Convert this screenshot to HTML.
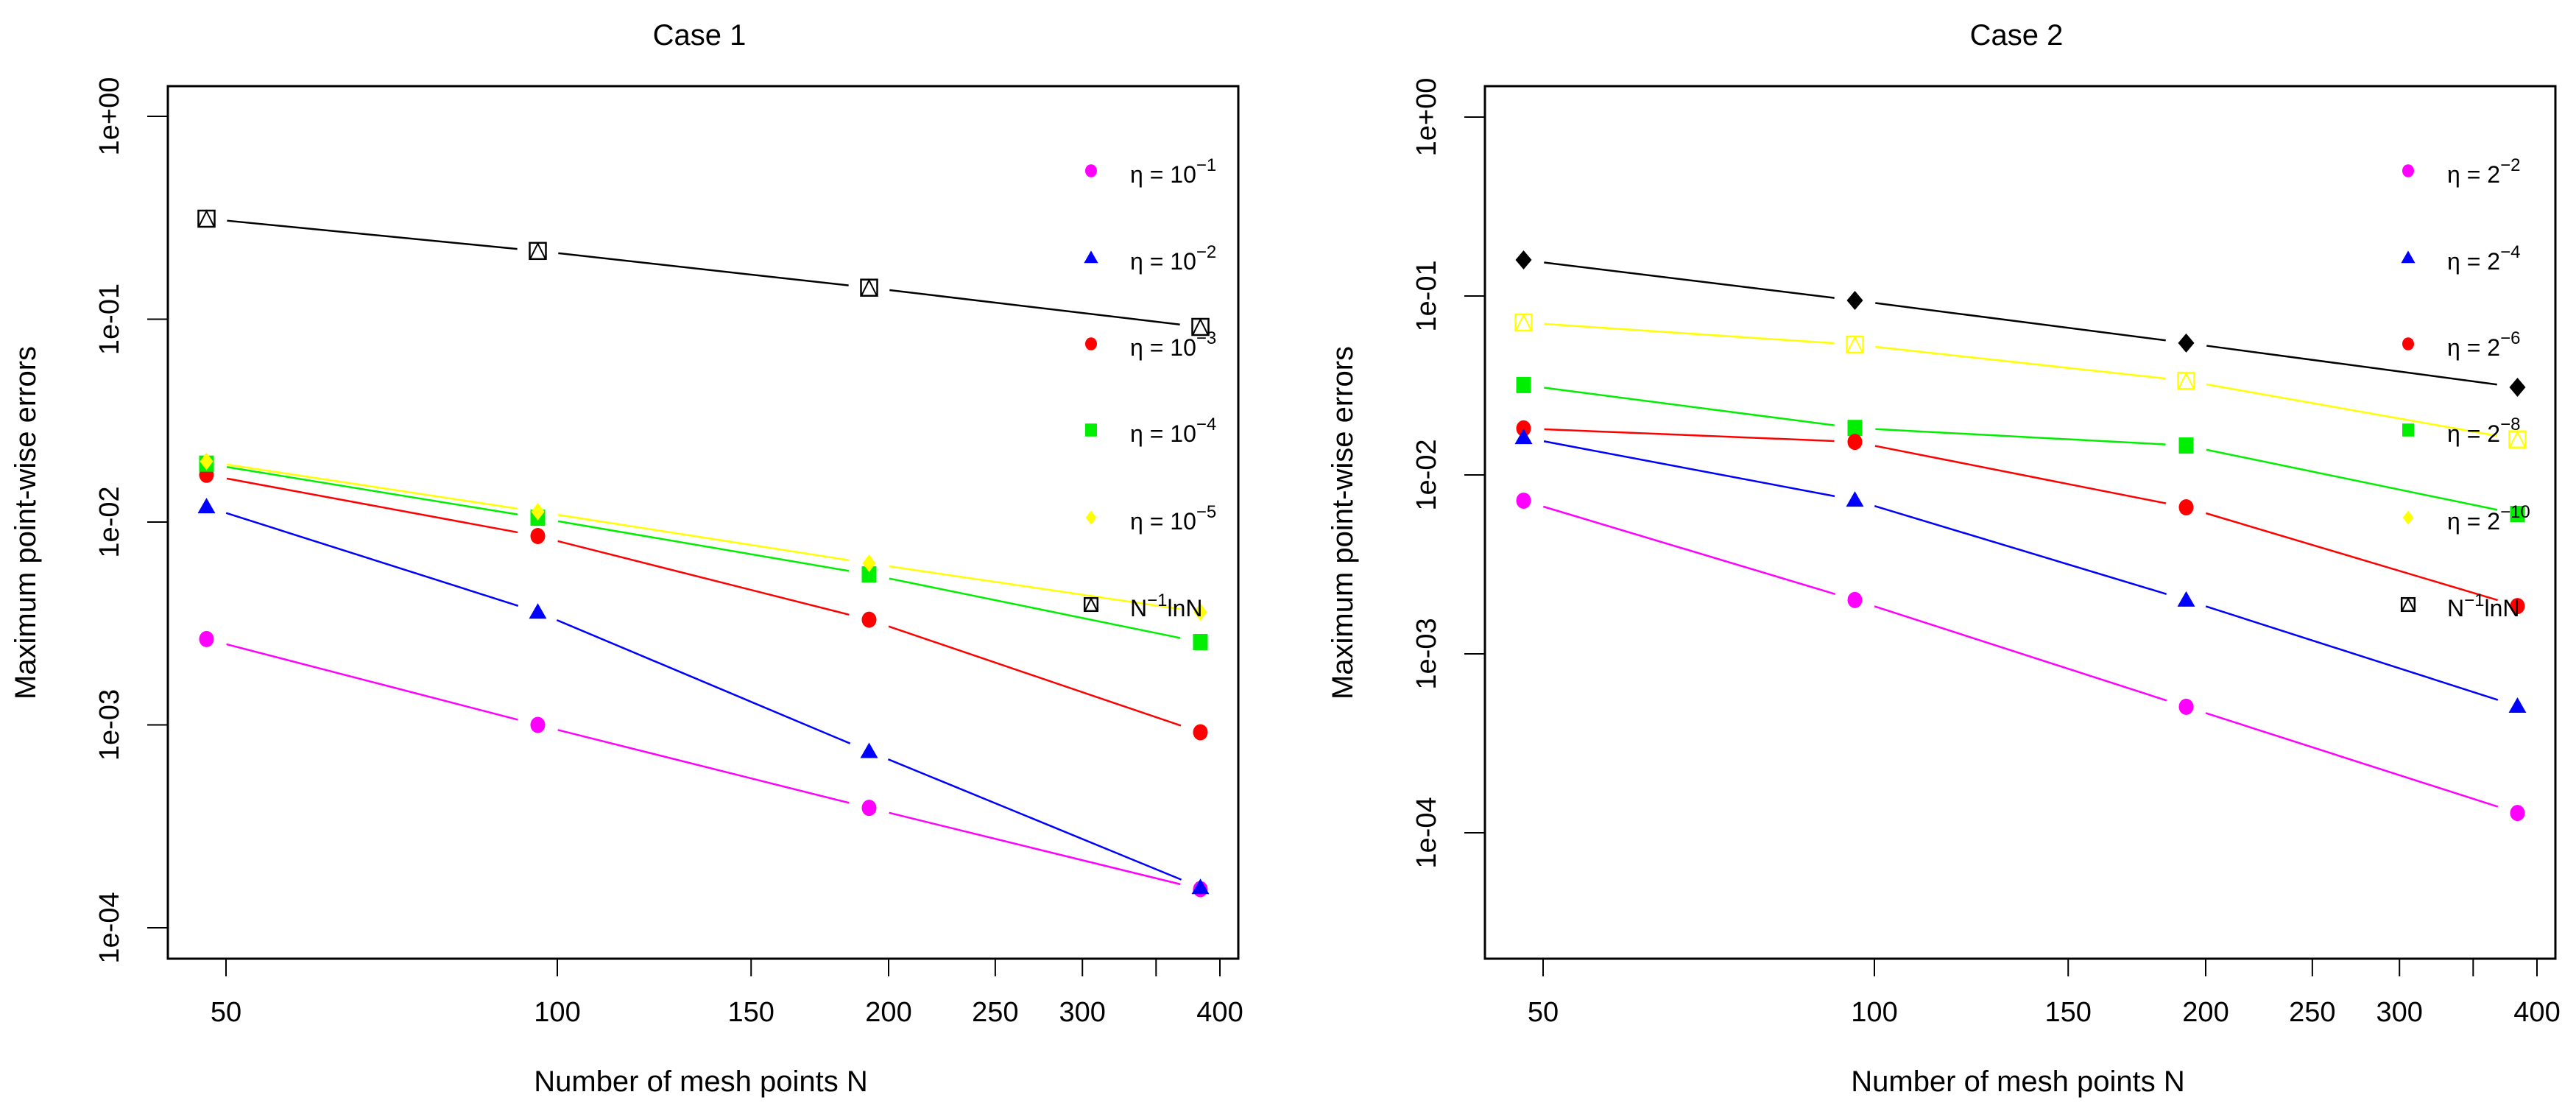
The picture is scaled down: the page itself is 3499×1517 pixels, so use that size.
<!DOCTYPE html>
<html><head><meta charset="utf-8"><style>
html,body{margin:0;padding:0;background:#fff}
svg{display:block}
text{font-family:"Liberation Sans",Arial,sans-serif;fill:#000}
</style></head>
<body>
<svg id="chart" width="3499" height="1517" viewBox="0 0 3499 1517" xmlns="http://www.w3.org/2000/svg"></svg>
<script>
// ---- data ----
const meshN = [48, 96, 192, 384];
const xTickValues = [50, 100, 150, 200, 250, 300, 350, 400];
const xTickLabels = ["50", "100", "150", "200", "250", "300", "", "400"];
const yTickValues = [1, 0.1, 0.01, 0.001, 0.0001];
const yTickLabels = ["1e+00", "1e-01", "1e-02", "1e-03", "1e-04"];

const case1Eta1 = [0.00265, 0.00100, 0.00039, 0.000155];
const case1Eta2 = [0.0119, 0.0036, 0.00074, 0.000158];
const case1Eta3 = [0.0171, 0.00853, 0.0033, 0.00092];
const case1Eta4 = [0.0194, 0.0105, 0.00552, 0.00256];
const case1Eta5 = [0.0199, 0.01125, 0.00626, 0.0036];
const case1Ref  = [0.313, 0.217, 0.143, 0.0916];

const case2Eta2  = [0.00718, 0.0020, 0.000506, 0.000129];
const case2Eta4  = [0.0162, 0.00724, 0.0020, 0.00051];
const case2Eta6  = [0.0182, 0.0153, 0.00659, 0.00185];
const case2Eta8  = [0.0318, 0.0183, 0.0146, 0.00605];
const case2Eta10 = [0.0711, 0.0535, 0.0336, 0.0158];
const case2Ref   = [0.159, 0.0945, 0.0546, 0.0309];

const case1Legend = ["−1", "−2", "−3", "−4", "−5"];
const case2Legend = ["−2", "−4", "−6", "−8", "−10"];

// ---- helpers ----
const svg = document.getElementById('chart');
const NS = 'http://www.w3.org/2000/svg';
function mk(tag, attrs, parent) {
  const e = document.createElementNS(NS, tag);
  for (const k in attrs) e.setAttribute(k, attrs[k]);
  (parent || svg).appendChild(e);
  return e;
}

const panels = [
  {off: 0, title: "Case 1", y0: 158, dec: 275.5, name: "case1"},
  {off: 1789, title: "Case 2", y0: 159, dec: 243, name: "case2"}
];
function xScale(p, n) { return p.off + 307 + 450 * Math.log2(n / 50); }
function yScale(p, v) { return p.y0 - p.dec * Math.log10(v); }

function marker(g, type, color, x, y, s) {
  let e;
  if (type === 'circle') {
    e = mk('ellipse', {cx: x, cy: y, rx: 10 * s, ry: 11 * s, fill: color}, g);
  } else if (type === 'triangle') {
    const h = 12 * s;
    e = mk('polygon', {points: `${x},${y - h} ${x - 12 * s},${y + h * 0.75} ${x + 12 * s},${y + h * 0.75}`, fill: color}, g);
  } else if (type === 'square') {
    e = mk('rect', {x: x - 10 * s, y: y - 11 * s, width: 20 * s, height: 22 * s, fill: color}, g);
  } else if (type === 'diamond') {
    e = mk('polygon', {points: `${x},${y - 12 * s} ${x + 9 * s},${y} ${x},${y + 12 * s} ${x - 9 * s},${y}`, fill: color}, g);
  } else if (type === 'bigdiamond') {
    e = mk('polygon', {points: `${x},${y - 13 * s} ${x + 11 * s},${y} ${x},${y + 13 * s} ${x - 11 * s},${y}`, fill: color}, g);
  } else if (type === 'boxtri') {
    e = mk('g', {}, g);
    mk('rect', {x: x - 11 * s, y: y - 11 * s, width: 22 * s, height: 22 * s, fill: '#fff', stroke: color, 'stroke-width': 2.5}, e);
    mk('polyline', {points: `${x - 10 * s},${y + 10 * s} ${x},${y - 10 * s} ${x + 10 * s},${y + 10 * s}`, fill: 'none', stroke: color, 'stroke-width': 2}, e);
  }
  
  
  return e;
}

function series(p, vals, color, type, name) {
  const g = mk('g', {});
  
  
  const pts = vals.map((v, i) => [xScale(p, meshN[i]), yScale(p, v)]);
  for (let i = 0; i < pts.length - 1; i++) {
    const [x1, y1] = pts[i], [x2, y2] = pts[i + 1];
    const dx = x2 - x1, dy = y2 - y1, L = Math.hypot(dx, dy), gap = 28;
    const l = mk('line', {x1: x1 + dx / L * gap, y1: y1 + dy / L * gap, x2: x2 - dx / L * gap, y2: y2 - dy / L * gap, stroke: color, 'stroke-width': 2.5}, g);
    
    
  }
  pts.forEach(([x, y]) => marker(g, type, color, x, y, 1));
}

const legendY = [232, 350, 467, 584, 703, 821];

function legendEntry(p, i, type, color, base, sup, plain) {
  const g = mk('g', {});
  
  
  const x = p.off + 1482, y = legendY[i];
  marker(g, type, color, x, y, 0.8);
  const t = mk('text', {x: p.off + 1535, y: y + 16, 'font-size': 32}, g);
  if (plain) {
    t.innerHTML = 'N<tspan dy="-14" font-size="24">−1</tspan><tspan dy="14">lnN</tspan>';
  } else {
    t.innerHTML = 'η = ' + base + '<tspan dy="-16" font-size="24">' + sup + '</tspan>';
  }
}

panels.forEach((p, pi) => {
  // frame
  const fr = mk('rect', {x: p.off + 228, y: 117, width: 1454, height: 1185, fill: 'none', stroke: '#000', 'stroke-width': 3});
  
  
  // title
  const tt = mk('text', {x: p.off + 950, y: 61, 'font-size': 40, 'text-anchor': 'middle'});
  tt.textContent = p.title;
  
  
  // x ticks
  xTickValues.forEach((v, i) => {
    const x = xScale(p, v);
    const tk = mk('line', {x1: x, y1: 1302, x2: x, y2: 1326, stroke: '#000', 'stroke-width': 2});
    
    
    if (xTickLabels[i]) {
      const lb = mk('text', {x: x, y: 1387, 'font-size': 38, 'text-anchor': 'middle'});
      lb.textContent = xTickLabels[i];
      
      
    }
  });
  // y ticks
  yTickValues.forEach((v, i) => {
    const y = yScale(p, v);
    const tk = mk('line', {x1: p.off + 200, y1: y, x2: p.off + 228, y2: y, stroke: '#000', 'stroke-width': 2});
    
    
    const lb = mk('text', {x: 0, y: 0, 'font-size': 38, 'text-anchor': 'middle', transform: `translate(${p.off + 161},${y}) rotate(-90)`});
    lb.textContent = yTickLabels[i];
    
    
  });
  // axis titles
  const xt = mk('text', {x: p.off + 952, y: 1482, 'font-size': 40, 'text-anchor': 'middle'});
  xt.textContent = 'Number of mesh points N';
  
  
  const yt = mk('text', {x: 0, y: 0, 'font-size': 40, 'text-anchor': 'middle', transform: `translate(${p.off + 48},710) rotate(-90)`});
  yt.textContent = 'Maximum point-wise errors';
  
  
});

// case 1
const P1 = panels[0], P2 = panels[1];
series(P1, case1Ref, '#000', 'boxtri', 'case1-series-ref');
series(P1, case1Eta1, '#ff00ff', 'circle', 'case1-series-eta1');
series(P1, case1Eta2, '#0000ff', 'triangle', 'case1-series-eta2');
series(P1, case1Eta3, '#ff0000', 'circle', 'case1-series-eta3');
series(P1, case1Eta4, '#00ee00', 'square', 'case1-series-eta4');
series(P1, case1Eta5, '#ffff00', 'diamond', 'case1-series-eta5');
legendEntry(P1, 0, 'circle', '#ff00ff', '10', case1Legend[0]);
legendEntry(P1, 1, 'triangle', '#0000ff', '10', case1Legend[1]);
legendEntry(P1, 2, 'circle', '#ff0000', '10', case1Legend[2]);
legendEntry(P1, 3, 'square', '#00ee00', '10', case1Legend[3]);
legendEntry(P1, 4, 'diamond', '#ffff00', '10', case1Legend[4]);
legendEntry(P1, 5, 'boxtri', '#000', '', '', true);

// case 2
series(P2, case2Ref, '#000', 'bigdiamond', 'case2-series-ref');
series(P2, case2Eta10, '#ffff00', 'boxtri', 'case2-series-eta10');
series(P2, case2Eta8, '#00ee00', 'square', 'case2-series-eta8');
series(P2, case2Eta6, '#ff0000', 'circle', 'case2-series-eta6');
series(P2, case2Eta4, '#0000ff', 'triangle', 'case2-series-eta4');
series(P2, case2Eta2, '#ff00ff', 'circle', 'case2-series-eta2');
legendEntry(P2, 0, 'circle', '#ff00ff', '2', case2Legend[0]);
legendEntry(P2, 1, 'triangle', '#0000ff', '2', case2Legend[1]);
legendEntry(P2, 2, 'circle', '#ff0000', '2', case2Legend[2]);
legendEntry(P2, 3, 'square', '#00ee00', '2', case2Legend[3]);
legendEntry(P2, 4, 'diamond', '#ffff00', '2', case2Legend[4]);
legendEntry(P2, 5, 'boxtri', '#000', '', '', true);
</script>
</body></html>
